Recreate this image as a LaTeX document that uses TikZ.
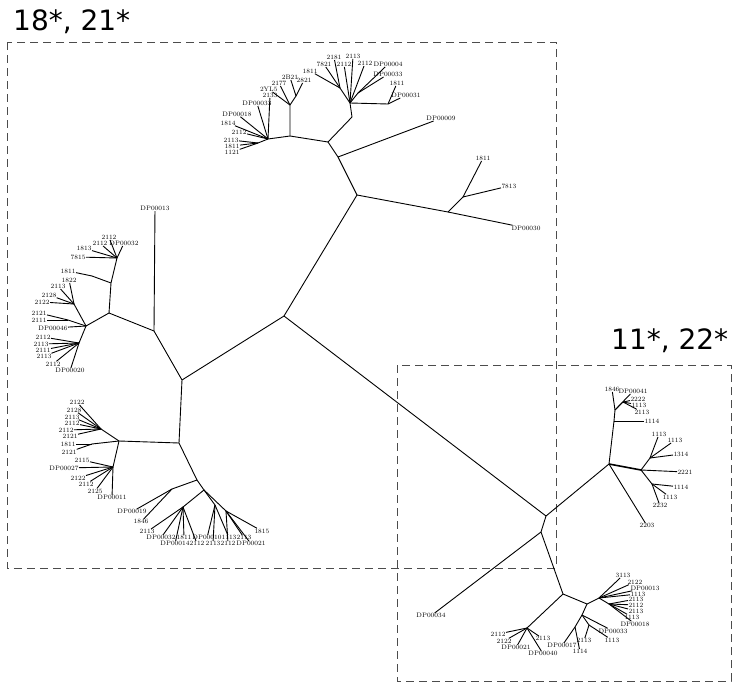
\documentclass[tikz,border=0pt]{standalone}
\usepackage{fontspec}
\newfontfamily\boxfont{DejaVu Sans}
\usetikzlibrary{positioning}

\tikzset{
  branch/.style={line width=0.9pt},
  leaf/.style={font=\fontsize{6.5}{7}\selectfont, inner sep=0.3pt},
  groupbox/.style={draw=black!70, line width=0.8pt, dash pattern=on 8pt off 5pt},
  grouplabel/.style={font=\boxfont\fontsize{28}{30}\selectfont, anchor=base west, inner sep=0pt},
}

% leaves of one fork: parent, name prefix, list x/y/anchor/text
\newcommand{\twigs}[3]{%
  \foreach \x/\y/\anc/\txt [count=\i] in {#3}{%
    \node[leaf, anchor=\anc] (#2-\i) at (\x,\y) {\txt};
    \draw[branch] (#1) -- (#2-\i);
  }%
}

\begin{document}
\begin{tikzpicture}[x=1pt, y=-1pt]
    \useasboundingbox (0,0) rectangle (737,683);

    % groups
    \draw[groupbox] (7,42) rectangle (556,568);
    \draw[groupbox] (397,365) rectangle (731,681);
    \node[grouplabel] (labA) at (13,30) {18*, 21*};
    \node[grouplabel] (labB) at (611,349) {11*, 22*};

    % backbone
    \coordinate (A) at (284,316);
    \coordinate (B) at (357,195);
    \coordinate (C) at (182,380);
    \coordinate (D) at (546,516);
    \draw[branch] (A) -- (B);
    \draw[branch] (A) -- (C);
    \draw[branch] (A) -- (D);

    % upper part
    \coordinate (E) at (448,212);
    \coordinate (F) at (463,197);
    \coordinate (G) at (338,157);
    \coordinate (H) at (328,142);
    \coordinate (I) at (352,117);
    \coordinate (I1) at (350,103);
    \coordinate (I2) at (340,88);
    \coordinate (I5) at (358,93);
    \coordinate (I6) at (388,104);
    \coordinate (J) at (290,136);
    \coordinate (L2) at (290,105);
    \coordinate (L) at (296,96);
    \coordinate (K) at (268,139);
    \coordinate (K2) at (258,143);
    \draw[branch] (B) -- (E) -- (F);
    \draw[branch] (B) -- (G) -- (H) -- (I) -- (I1) -- (I2);
    \draw[branch] (I1) -- (I5);
    \draw[branch] (I1) -- (I6);
    \draw[branch] (H) -- (J) -- (K) -- (K2);
    \draw[branch] (J) -- (L2) -- (L);

    \twigs{E}{e}{511/228/west/DP00030}
    \twigs{F}{f}{483/161/south/1811, 501/186/west/7813}
    \twigs{G}{g}{441/121/south/DP00009}
    \twigs{I2}{ib}{318/71/east/1811, 324/67/south/7821, 334/60/south/2181}
    \twigs{I1}{ia}{344/67/south/2112, 353/59/south/2113, 365/66/south/2112}
    \twigs{I5}{ic}{373/67/south west/DP00004, 388/77/south/DP00033}
    \twigs{I6}{id}{397/86/south/1811, 406/98/south/DP00031}
    \twigs{L2}{la}{278/92/south east/2YL5, 279/86/south/2177}
    \twigs{L}{lb}{290/80/south/2B21, 304/83/south/2821}
    \twigs{K2}{kb}{240/152/east/1121, 240/146/east/1811, 239/140/east/2113}
    \twigs{K}{ka}{247/132/east/2112, 236/123/east/1814, 252/114/east/DP00018, 257/106/south/DP00033, 270/98/south/2133}

    % left part
    \coordinate (M) at (154,331);
    \coordinate (N) at (109,313);
    \coordinate (O) at (111,283);
    \coordinate (O1) at (92,276);
    \coordinate (O2) at (117,258);
    \coordinate (P) at (86,326);
    \coordinate (Pa) at (74,304);
    \coordinate (Pc) at (68,320);
    \coordinate (Pb) at (79,343);
    \draw[branch] (C) -- (M) -- (N) -- (O) -- (O2);
    \draw[branch] (O) -- (O1);
    \draw[branch] (N) -- (P) -- (Pa);
    \draw[branch] (P) -- (Pc);
    \draw[branch] (P) -- (Pb);

    \twigs{M}{m}{155/211/south/DP00013}
    \twigs{O1}{oa}{76/271/east/1811}
    \twigs{O2}{ob}{86/257/east/7815, 92/251/south east/1813, 100/246/south/2112, 109/240/south/2112, 124/246/south/DP00032}
    \twigs{Pa}{pa}{77/283/south east/1822, 66/289/south east/2113, 57/295/east/2128, 50/302/east/2122}
    \twigs{Pc}{pc}{47/313/east/2121, 47/320/east/2111}
    \twigs{P}{p}{68/328/east/DP00046}
    \twigs{Pb}{pb}{51/337/east/2112, 49/344/east/2113, 51/350/east/2111, 52/356/east/2113, 61/364/east/2112, 70/368/north/DP00020}

    \coordinate (Q) at (179,443);
    \coordinate (R) at (119,441);
    \coordinate (R1) at (101,429);
    \coordinate (R1b) at (92,444);
    \coordinate (R2) at (113,467);
    \coordinate (S) at (197,480);
    \coordinate (S1) at (172,489);
    \coordinate (T) at (204,490);
    \coordinate (T1) at (183,507);
    \coordinate (T2) at (215,505);
    \coordinate (T3) at (226,511);
    \draw[branch] (C) -- (Q) -- (R) -- (R1);
    \draw[branch] (R) -- (R1b);
    \draw[branch] (R) -- (R2);
    \draw[branch] (Q) -- (S) -- (S1);
    \draw[branch] (S) -- (T) -- (T1);
    \draw[branch] (T) -- (T2);
    \draw[branch] (T) -- (T3);

    \twigs{R1}{ra}{85/405/south east/2122, 82/410/east/2128, 80/417/east/2113, 80/423/east/2112, 74/430/east/2112, 78/436/east/2121}
    \twigs{R1b}{rb}{76/444/east/1811, 77/452/east/2121}
    \twigs{R2}{rc}{90/460/east/2115, 79/468/east/DP00027, 86/478/east/2122, 94/484/east/2112, 103/491/east/2125, 112/495/north/DP00011}
    \twigs{S1}{s}{132/509/north/DP00019, 149/519/north east/1846}
    \twigs{T1}{ta}{155/529/north east/2113, 161/535/north/DP00032, 175/541/north/DP00014, 184/535/north/1811, 197/541/north/2112}
    \twigs{T2}{tb}{207/535/north/DP00010, 213/541/north/2113, 229/535/north/1113}
    \twigs{T3}{tc}{228/541/north/2112, 244/535/north/2113, 251/541/north/DP00021, 254/531/west/1815}

    % right part
    \coordinate (U) at (609,464);
    \coordinate (V) at (614,421);
    \coordinate (V1) at (615,410);
    \coordinate (V3) at (623,402);
    \coordinate (W) at (641,470);
    \coordinate (W1) at (650,458);
    \coordinate (W2) at (652,484);
    \draw[branch] (D) -- (U) -- (V) -- (V1) -- (V3);
    \draw[branch, line width=1.6pt] (U) -- (W);
    \draw[branch] (W) -- (W1);
    \draw[branch] (W) -- (W2);

    \twigs{V}{va}{644/421/west/1114}
    \twigs{V1}{vc}{612/392/south/1846, 618/394/south west/DP00041}
    \twigs{V3}{vb}{630/399/west/2222, 631/405/west/1113, 634/412/west/2113}
    \twigs{W1}{wa}{659/437/south/1113, 667/443/south west/1113, 673/454/west/1314}
    \twigs{W}{wb}{677/472/west/2221}
    \twigs{W2}{wc}{673/487/west/1114, 662/497/west/1113, 660/503/north/2232}
    \twigs{U}{u}{647/523/north/2203}

    \coordinate (X) at (541,532);
    \coordinate (Y) at (563,594);
    \coordinate (Z) at (527,628);
    \coordinate (AA) at (587,604);
    \coordinate (AB) at (599,598);
    \coordinate (AD) at (609,604);
    \coordinate (AC) at (582,615);
    \coordinate (AF) at (589,625);
    \coordinate (AG) at (575,627);
    \draw[branch] (D) -- (X) -- (Y) -- (Z);
    \draw[branch] (Y) -- (AA) -- (AB) -- (AD);
    \draw[branch] (AA) -- (AC) -- (AF);
    \draw[branch] (AC) -- (AG);

    \twigs{X}{x}{431/613/north/DP00034}
    \twigs{Z}{za}{506/634/east/2112, 512/641/east/2122, 516/645/north/DP00021, 543/651/north/DP00040, 535/636/north west/2113}
    \twigs{AB}{ab}{623/578/south/3113, 627/582/west/2122, 630/588/west/DP00013, 630/594/west/1113}
    \twigs{AD}{ad}{628/599/west/2113, 628/605/west/2112, 628/611/west/2113, 624/617/west/1113, 620/624/west/DP00018}
    \twigs{AC}{ac}{598/631/west/DP00033}
    \twigs{AF}{af}{584/638/north/2113, 604/640/west/1113}
    \twigs{AG}{ag}{562/643/north/DP00017, 580/649/north/1114}
\end{tikzpicture}
\end{document}
